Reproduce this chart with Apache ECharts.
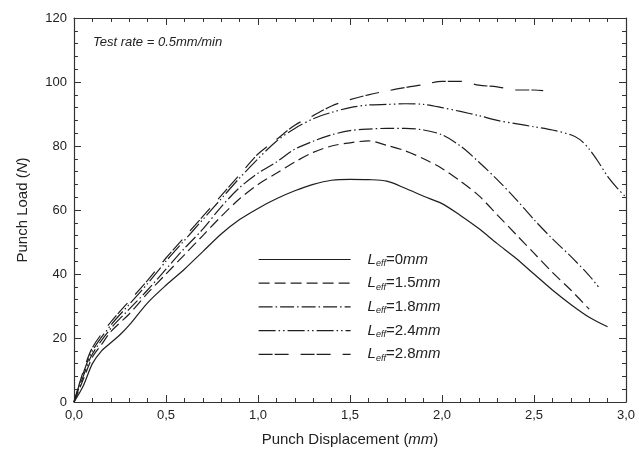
<!DOCTYPE html>
<html>
<head>
<meta charset="utf-8">
<script src="https://cdn.jsdelivr.net/npm/echarts@6/dist/echarts.min.js"></script>
<style>
  html, body { margin: 0; padding: 0; background: #fff; }
  #chart { width: 639px; height: 461px; }
</style>
</head>
<body>
<div id="chart"></div>
<script>
// punch displacement (mm) / punch load (N)
var disp0 = [0, 0.05, 0.1, 0.15, 0.2, 0.25, 0.3, 0.4, 0.5, 0.6, 0.7, 0.8, 0.9, 1.0, 1.1, 1.2, 1.3, 1.4, 1.5, 1.6, 1.7, 1.8, 1.9, 2.0, 2.1, 2.2, 2.3, 2.4, 2.5, 2.6, 2.7, 2.8, 2.9];
var load0 = [0, 5, 12, 16, 18.5, 21, 24, 31, 36.5, 41.5, 47, 52.5, 57, 60.5, 63.5, 66, 68, 69.3, 69.6, 69.5, 69, 66.8, 64.3, 62, 58.3, 54.2, 49.5, 45, 40, 35, 30.5, 26.5, 23.5];

var disp15 = [0, 0.05, 0.1, 0.15, 0.2, 0.3, 0.4, 0.5, 0.6, 0.7, 0.8, 0.9, 1.0, 1.1, 1.2, 1.3, 1.4, 1.5, 1.6, 1.7, 1.8, 1.9, 2.0, 2.1, 2.2, 2.3, 2.4, 2.5, 2.6, 2.7, 2.8];
var load15 = [0, 7, 14, 18, 22, 27.5, 34, 40, 46, 52, 58, 63.5, 68, 71.5, 75, 78, 80, 81, 81.6, 80.2, 78.5, 76, 73, 69, 64.5, 58.5, 52.5, 46.5, 40.5, 35, 29];

var disp18 = [0, 0.05, 0.1, 0.2, 0.3, 0.4, 0.5, 0.6, 0.7, 0.8, 0.9, 1.0, 1.1, 1.2, 1.3, 1.4, 1.5, 1.6, 1.7, 1.8, 1.9, 2.0, 2.1, 2.2, 2.3, 2.4, 2.5, 2.6, 2.7, 2.8, 2.85];
var load18 = [0, 8, 15, 23, 29, 35, 41.5, 48, 54, 61, 67, 71.5, 75, 79, 81.5, 83.5, 84.8, 85.3, 85.5, 85.5, 85, 83.5, 80, 75, 69.5, 63.5, 57, 51, 45.5, 39.5, 36];

var disp24 = [0, 0.05, 0.1, 0.2, 0.3, 0.4, 0.5, 0.6, 0.7, 0.8, 0.9, 1.0, 1.1, 1.2, 1.3, 1.4, 1.5, 1.6, 1.7, 1.8, 1.9, 2.0, 2.1, 2.2, 2.3, 2.4, 2.5, 2.6, 2.7, 2.75, 2.8, 2.85, 2.9, 2.95, 3.0];
var load24 = [0, 9, 16, 24, 30.5, 37, 44, 50.5, 57, 63.5, 70, 76, 81.5, 85.5, 88.5, 90.5, 92, 92.8, 93, 93.2, 93, 92, 90.8, 89.5, 88, 87, 86, 85, 83.5, 82, 79, 75, 70.5, 67, 64];

var disp28 = [0, 0.05, 0.1, 0.2, 0.3, 0.4, 0.5, 0.6, 0.7, 0.8, 0.9, 1.0, 1.1, 1.2, 1.3, 1.4, 1.5, 1.6, 1.7, 1.8, 1.9, 2.0, 2.1, 2.2, 2.3, 2.4, 2.5, 2.55];
var load28 = [0, 9.5, 17, 25, 31.5, 38, 45, 51.5, 58, 64.5, 71, 77.5, 82, 86.5, 89.5, 92.5, 94.5, 96, 97.2, 98.3, 99.2, 100.2, 100.2, 99, 98.5, 97.5, 97.5, 97.3];

var leffNames = ['0', '1.5', '1.8', '2.4', '2.8'];
var xTicks = [0, 0.5, 1.0, 1.5, 2.0, 2.5, 3.0];
var yTicks = [0, 20, 40, 60, 80, 100, 120];

function pairs(xs, ys) {
  return xs.map(function (x, i) { return [x, ys[i]]; });
}

var font = 'Liberation Sans';
var ink = '#1e1e1e';

function curve(name, xs, ys, dash) {
  return {
    name: 'L' + name,
    type: 'line',
    data: pairs(xs, ys),
    smooth: 0.3,
    symbol: 'none',
    lineStyle: { color: ink, width: 1.2, type: dash },
    itemStyle: { color: ink }
  };
}

// box style axes, ticks pointing in
function frameAxis(pos, showLabel) {
  var horiz = (pos === 'bottom' || pos === 'top');
  var ticks = horiz ? xTicks : yTicks;
  return {
    type: 'value',
    position: pos,
    min: ticks[0],
    max: ticks[ticks.length - 1],
    interval: ticks[1] - ticks[0],
    axisLine: { show: true, onZero: false, lineStyle: { color: '#333', width: 1.2 } },
    axisTick: { show: true, inside: true, length: 7, lineStyle: { color: '#333' } },
    minorTick: { show: true, splitNumber: 5, length: 4, lineStyle: { color: '#333' } },
    splitLine: { show: false },
    axisLabel: {
      show: showLabel,
      margin: 7,
      color: '#222',
      fontFamily: font,
      fontSize: 13,
      formatter: function (v) {
        return horiz ? v.toFixed(1).replace('.', ',') : String(v);
      }
    }
  };
}

var xMain = frameAxis('bottom', true);
xMain.name = '{n|Punch Displacement (}{i|mm}{n|)}';
xMain.nameLocation = 'middle';
xMain.nameGap = 30;
xMain.nameTextStyle = {
  rich: {
    n: { fontFamily: font, fontSize: 15, color: '#222' },
    i: { fontFamily: font, fontSize: 15, color: '#222', fontStyle: 'italic' }
  }
};

var yMain = frameAxis('left', true);
yMain.name = '{n|Punch Load (}{i|N}{n|)}';
yMain.nameLocation = 'middle';
yMain.nameGap = 44;
yMain.nameTextStyle = {
  rich: {
    n: { fontFamily: font, fontSize: 15, color: '#222' },
    i: { fontFamily: font, fontSize: 15, color: '#222', fontStyle: 'italic' }
  }
};

var myChart = echarts.init(document.getElementById('chart'), null, { renderer: 'canvas' });

var option = {
  backgroundColor: '#fff',
  animation: false,
  grid: { left: 74, right: 13, top: 18, bottom: 59 },
  xAxis: [xMain, frameAxis('top', false)],
  yAxis: [yMain, frameAxis('right', false)],
  legend: {
    show: true,
    orient: 'vertical',
    left: 253,
    top: 247,
    itemWidth: 92,
    itemHeight: 14,
    itemGap: 7.7,
    itemStyle: { opacity: 0 },
    lineStyle: { width: 1.2 },
    data: leffNames.map(function (n) { return 'L' + n; }),
    formatter: function (name) {
      return '{i|L}{s|eff}{t|=' + name.slice(1) + '}{i|mm}';
    },
    textStyle: {
      padding: [0, 0, 0, 12],
      rich: {
        i: { fontFamily: font, fontSize: 15, fontStyle: 'italic', color: '#222' },
        s: { fontFamily: font, fontSize: 9, fontStyle: 'italic', color: '#222', verticalAlign: 'bottom', padding: [8, 0, 0, 0] },
        t: { fontFamily: font, fontSize: 15, color: '#222' }
      }
    }
  },
  graphic: [{
    type: 'text',
    left: 93,
    top: 36,
    style: {
      text: 'Test rate = 0.5mm/min',
      fontFamily: font,
      fontSize: 13,
      fontStyle: 'italic',
      fill: '#222'
    }
  }],
  series: [
    curve(leffNames[0], disp0, load0, 'solid'),
    curve(leffNames[1], disp15, load15, [11, 5]),
    curve(leffNames[2], disp18, load18, [14, 3, 1.5, 3]),
    curve(leffNames[3], disp24, load24, [17, 3, 1.5, 3, 1.5, 3]),
    curve(leffNames[4], disp28, load28, [14, 2, 14, 12])
  ]
};

myChart.setOption(option);
window.addEventListener('resize', myChart.resize);
</script>
</body>
</html>
